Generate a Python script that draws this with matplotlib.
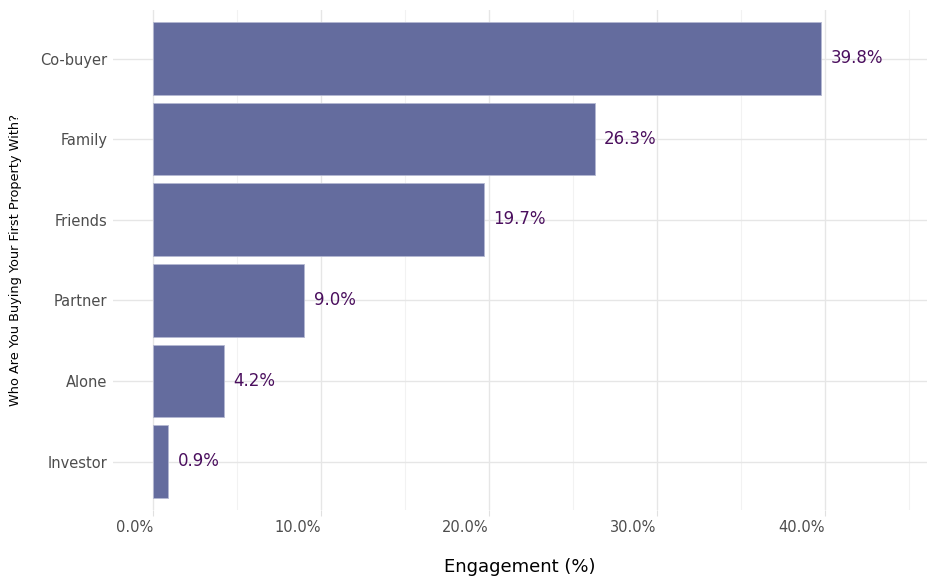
import matplotlib
matplotlib.use("Agg")
import matplotlib.pyplot as plt
import numpy as np

categories = ["Co-buyer", "Family", "Friends", "Partner", "Alone", "Investor"]
values = [39.8, 26.3, 19.7, 9.0, 4.2, 0.9]
labels = ["39.8%", "26.3%", "19.7%", "9.0%", "4.2%", "0.9%"]
xticks = [0, 10, 20, 30, 40]
xticklabels = ["0.0%", "10.0%", "20.0%", "30.0%", "40.0%"]
minor_ticks = [5, 15, 25, 35, 45]

plt.rcParams['font.family'] = ['DejaVu Sans']
fig = plt.figure(figsize=(9.36, 5.86), dpi=100)
ax = fig.add_axes([0.1207, 0.1297, 0.8697, 0.853])

ypos = np.arange(len(categories))[::-1]
ax.barh(ypos, values, height=0.9, color="#646c9e", edgecolor="#b4b8d2",
        linewidth=0.6, zorder=3)
for y, v, lab in zip(ypos, values, labels):
    ax.text(v + 0.55, y + 0.005, lab, va="center", ha="left", fontsize=12,
            color="#4b0f5e", zorder=4)

ax.set_xlim(-2.4, 46.1)
ax.set_ylim(-0.6, 5.6)
ax.set_yticks(ypos)
ax.set_yticklabels(categories)
ax.set_xticks(xticks)
ax.set_xticklabels(xticklabels, ha="right")
ax.set_xticks(minor_ticks, minor=True)

for s in ax.spines.values():
    s.set_visible(False)
ax.grid(True, which="major", color="#e6e6e6", linewidth=1.0, zorder=0)
ax.grid(True, which="minor", axis="x", color="#f2f2f2", linewidth=0.8, zorder=0)
ax.tick_params(axis="x", which="major", length=4, color="#e0e0e0", labelsize=10.5,
               labelcolor="#4d4d4d", pad=3)
ax.tick_params(axis="x", which="minor", length=0)
ax.tick_params(axis="y", length=0, labelsize=10.5,
               labelcolor="#4d4d4d", pad=4)

ax.set_xlabel("Engagement (%)", fontsize=13, color="black", labelpad=17)
ax.set_ylabel("Who Are You Buying Your First Property With?", fontsize=9.3,
              color="black", labelpad=13)

fig.savefig("out.png", dpi=100, facecolor="white")
